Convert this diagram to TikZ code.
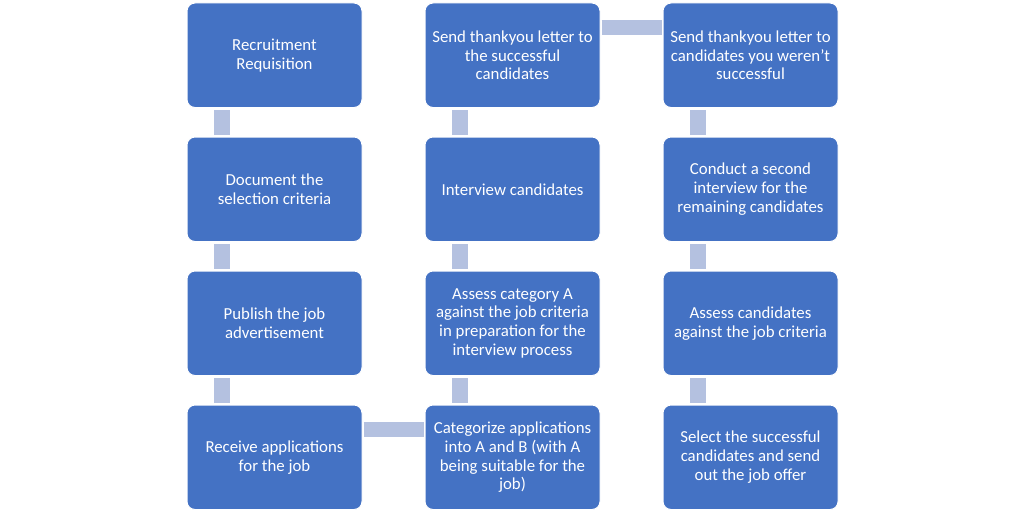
\documentclass[tikz,border=0pt]{standalone}
\usepackage{fontspec}
\setmainfont{Carlito}
\usetikzlibrary{positioning}

\definecolor{boxblue}{RGB}{68,114,196}
\definecolor{linkblue}{RGB}{180,193,224}

\begin{document}
\begin{tikzpicture}[x=1pt, y=-1pt, node distance=28.5pt and 62pt,
    stage/.style={draw=white, line width=1pt, fill=boxblue, rounded corners=8pt,
        minimum width=175pt, minimum height=104.5pt,
        align=center, text=white, font=\fontsize{16.8}{18.8}\selectfont},
    link/.style={draw=linkblue, line width=15.5pt}]
    % Fix the page size
    \useasboundingbox (0,0) rectangle (1024,511);

    % Column 1
    \node[stage, anchor=north west] (requisition) at (186.5,2.5) {Recruitment\\Requisition};
    \node[stage, below=of requisition] (criteria) {Document the\\selection criteria};
    \node[stage, below=of criteria] (advert) {Publish the job\\advertisement};
    \node[stage, below=of advert] (receive) {Receive applications\\for the job};

    % Column 2
    \node[stage, right=of receive] (categorize) {Categorize applications\\into A and B (with A\\being suitable for the\\job)};
    \node[stage, above=of categorize] (assess) {Assess category A\\against the job criteria\\in preparation for the\\interview process};
    \node[stage, above=of assess] (interview) {Interview candidates};
    \node[stage, above=of interview] (thanks) {Send thankyou letter to\\the successful\\candidates};

    % Column 3
    \node[stage, right=of thanks] (regret) {Send thankyou letter to\\candidates you weren't\\successful};
    \node[stage, below=of regret] (second) {Conduct a second\\interview for the\\remaining candidates};
    \node[stage, below=of second] (assessall) {Assess candidates\\against the job criteria};
    \node[stage, below=of assessall] (offer) {Select the successful\\candidates and send\\out the job offer};

    % Vertical links
    \foreach \a/\b in {requisition/criteria, criteria/advert, advert/receive,
        thanks/interview, interview/assess, assess/categorize,
        regret/second, second/assessall, assessall/offer} {
        \draw[link, shorten <=2pt, shorten >=2pt]
            ([xshift=35.5pt]\a.south west) -- ([xshift=35.5pt]\b.north west);
    }

    % Horizontal links
    \draw[link, shorten <=1pt, shorten >=1pt]
        ([yshift=-25pt]receive.north east) -- ([yshift=-25pt]categorize.north west);
    \draw[link, shorten <=1pt, shorten >=1pt]
        ([yshift=-25pt]thanks.north east) -- ([yshift=-25pt]regret.north west);
\end{tikzpicture}
\end{document}
